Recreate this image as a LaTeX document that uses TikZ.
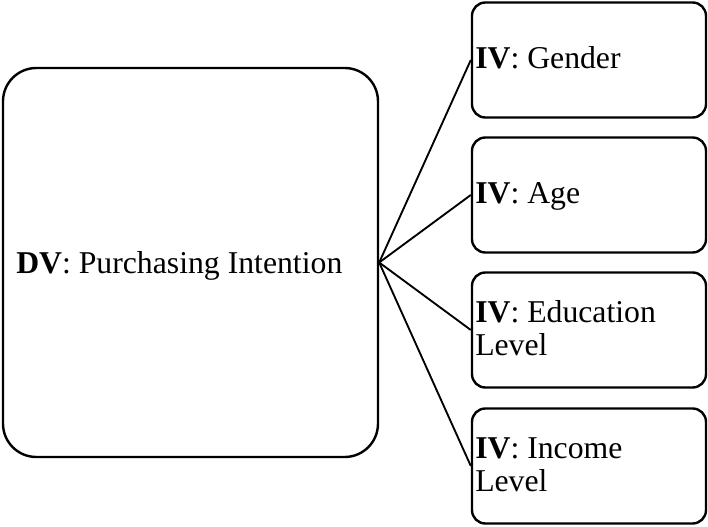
\documentclass[tikz,border=0pt]{standalone}
\usepackage{fontspec}
\setmainfont{Liberation Serif}
\begin{document}
\begin{tikzpicture}[x=0.75pt,y=-0.75pt,
  bigbox/.style={draw,line width=1.8pt,rounded corners=25pt,minimum width=281.25pt,minimum height=291.75pt,inner sep=0pt},
  ivbox/.style={draw,line width=1.8pt,rounded corners=10pt,minimum width=175.5pt,minimum height=86.25pt,inner sep=0pt},
  lbl/.style={anchor=base west,inner sep=0pt,align=left,font=\fontsize{23.8}{24.75}\selectfont},
  conn/.style={line width=1.4pt}]
\useasboundingbox (0,0) rectangle (708,527);
\node[bigbox] (dv) at (190.5,262.5) {};
\node[ivbox] (g) at (589,60) {};
\node[ivbox] (a) at (589,195) {};
\node[ivbox] (e) at (589,330) {};
\node[ivbox] (i) at (589,466) {};
\node[lbl] (dvt) at (16,274) {\textbf{DV}: Purchasing Intention};
\node[lbl] (gt) at (475,69) {\textbf{IV}: Gender};
\node[lbl] (at) at (475,204) {\textbf{IV}: Age};
\node[lbl] (et) at (475,356) {\textbf{IV}: Education\\Level};
\node[lbl] (it) at (475,492) {\textbf{IV}: Income\\Level};
\draw[conn] (dv.east) -- (g.west);
\draw[conn] (dv.east) -- (a.west);
\draw[conn] (dv.east) -- (e.west);
\draw[conn] (dv.east) -- (i.west);
\end{tikzpicture}
\end{document}
